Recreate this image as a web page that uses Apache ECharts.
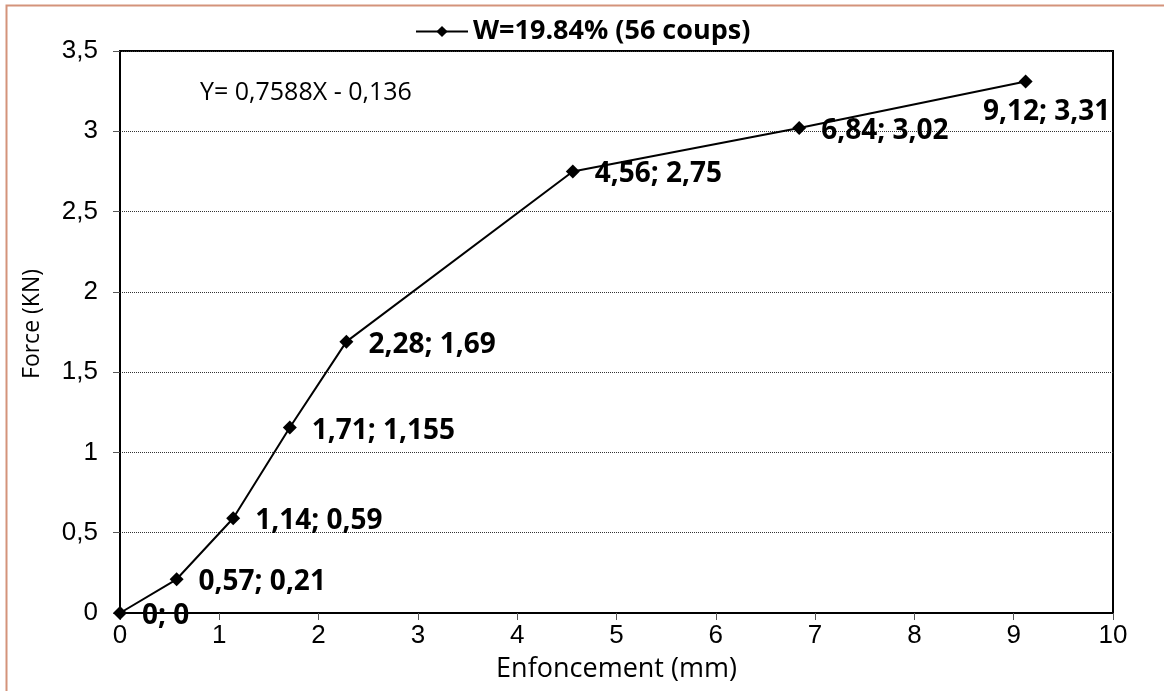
<!DOCTYPE html>
<html>
<head>
<meta charset="utf-8">
<script src="https://cdn.jsdelivr.net/npm/echarts@6/dist/echarts.min.js"></script>
<style>
  html, body { margin: 0; padding: 0; background: #fff; }
  #main { width: 1164px; height: 691px; }
</style>
</head>
<body>
<div id="main"></div>
<script>
// valeurs
const enfoncement = [0, 0.57, 1.14, 1.71, 2.28, 4.56, 6.84, 9.12]
const force = [0, 0.21, 0.59, 1.155, 1.69, 2.75, 3.02, 3.31]
const etiquettes = ['0; 0', '0,57; 0,21', '1,14; 0,59', '1,71; 1,155', '2,28; 1,69', '4,56; 2,75', '6,84; 3,02', '9,12; 3,31']
const serieNom = 'W=19.84% (56 coups)'
const equation = 'Y= 0,7588X - 0,136'

const fmt = v => String(v).replace('.', ',')

const points = enfoncement.map((x, i) => {
    const item = { value: [x, force[i]], label: { formatter: etiquettes[i] } }
    if (i === enfoncement.length - 1) {
        item.label.position = 'bottom'
        item.label.distance = 10
        item.label.offset = [21, 0]
    }
    return item
})

const myChart = echarts.init(document.getElementById('main'))
myChart.setOption({
    animation: false,
    grid: {
        left: 120, right: 51, top: 51, bottom: 78,
        outerBoundsMode: 'none',
        show: true, borderColor: '#000', borderWidth: 2
    },
    legend: {
        top: 13,
        left: 410,
        itemWidth: 52,
        itemHeight: 14,
        itemGap: 6,
        textStyle: { fontFamily: 'Open Sans', fontWeight: 'bold', fontSize: 27, color: '#000' },
        data: [serieNom]
    },
    xAxis: {
        type: 'value',
        min: 0, max: 10, interval: 1,
        name: 'Enfoncement (mm)',
        nameLocation: 'middle',
        nameGap: 43,
        nameTextStyle: { fontFamily: 'Open Sans', fontSize: 27, color: '#000' },
        axisLine: { show: true, onZero: false, lineStyle: { color: '#000', width: 2 } },
        axisTick: { show: true, length: 7, lineStyle: { color: '#555' } },
        axisLabel: { show: true, margin: 10, fontSize: 26, color: '#000', fontFamily: 'Liberation Sans' },
        splitLine: { show: false }
    },
    yAxis: {
        type: 'value',
        min: 0, max: 3.5, interval: 0.5,
        name: 'Force (KN)',
        nameLocation: 'middle',
        nameGap: 76,
        nameTextStyle: { fontFamily: 'Open Sans', fontSize: 23, color: '#000', padding: [0, 0, 0, 16] },
        axisLine: { show: true, lineStyle: { color: '#000', width: 2 } },
        axisTick: { show: true, length: 7, lineStyle: { color: '#555' } },
        axisLabel: { show: true, margin: 22, fontSize: 26, color: '#000', fontFamily: 'Liberation Sans', formatter: fmt },
        splitLine: { show: true, lineStyle: { color: '#333', width: 1, type: [1, 1] } }
    },
    series: [
        {
            name: serieNom,
            type: 'line',
            data: points,
            symbol: 'diamond',
            symbolSize: 14,
            itemStyle: { color: '#000' },
            lineStyle: { color: '#000', width: 2 },
            label: {
                show: true,
                position: 'right',
                distance: 15,
                offset: [0, 3],
                fontFamily: 'Open Sans',
                fontWeight: 'bold',
                fontSize: 28,
                color: '#000'
            }
        }
    ],
    graphic: [
        {
            type: 'rect',
            shape: { x: 6.5, y: 5.5, width: 1164, height: 700 },
            style: { fill: 'none', stroke: '#d4937b', lineWidth: 2 },
            silent: true
        },
        {
            type: 'text',
            left: 200,
            top: 80,
            style: { text: equation, fontFamily: 'Open Sans', fontSize: 25, fill: '#000' }
        }
    ]
})
</script>
</body>
</html>
